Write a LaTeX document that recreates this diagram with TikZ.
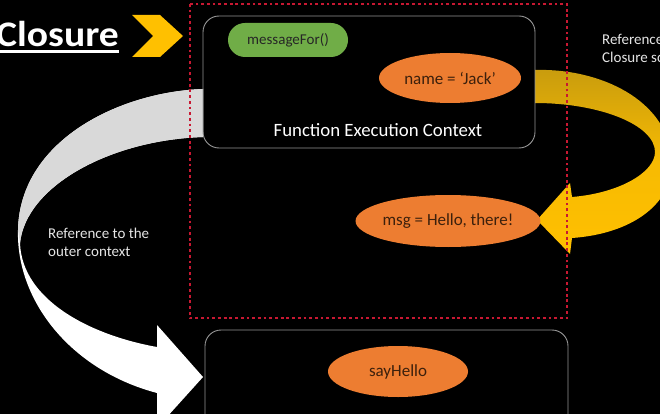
\documentclass[tikz,border=0pt]{standalone}
\usepackage{fontspec}
\setmainfont{Carlito}
\newfontfamily\titlefont[FakeStretch=1.1]{Carlito}
\usetikzlibrary{shapes.geometric}
\definecolor{gold}{HTML}{FFC000}
\definecolor{darkgold}{RGB}{200,156,14}
\definecolor{leafgreen}{HTML}{70AD47}
\definecolor{pumpkin}{HTML}{ED7D31}
\definecolor{crimsonline}{RGB}{200,24,50}
\definecolor{boxgray}{RGB}{150,150,150}
\definecolor{ribbongray}{RGB}{217,217,217}
\definecolor{inktext}{RGB}{60,32,12}
\tikzset{
  ctxbox/.style={draw=boxgray, line width=0.9pt, rounded corners=16pt, inner sep=0pt},
  oval/.style={ellipse, fill=pumpkin, inner sep=0pt, text=inktext, font=\fontsize{17}{20}\selectfont},
  pill/.style={rectangle, rounded corners=17pt, fill=leafgreen, inner sep=0pt, text=black!85, font=\fontsize{15}{18}\selectfont},
  note/.style={text=white!90!black, align=left, inner sep=0pt, font=\fontsize{15}{18}\selectfont},
  redframe/.style={draw=crimsonline, line width=2.8pt, dash pattern=on 2.8pt off 2.9pt}
}
\begin{document}
\begin{tikzpicture}[x=1pt,y=-1pt]
\useasboundingbox (0,0) rectangle (660,414);
\fill[black] (0,0) rectangle (660,414);
\clip (0,0) rectangle (660,414);

% white / gray ribbon arrow (reference to outer context)
\fill[white] (203,89) .. controls (120,92) and (20,140) .. (18,230)
  .. controls (16,300) and (70,370) .. (157,393) -- (157,428) -- (203,377) -- (157,325) -- (157,347)
  .. controls (90,335) and (22,300) .. (20,243)
  .. controls (26,186) and (110,140) .. (203,137) -- cycle;
\fill[ribbongray] (203,89) .. controls (120,92) and (20,140) .. (18,230) -- (20,243)
  .. controls (26,186) and (110,140) .. (203,137) -- cycle;

% yellow arrow (reference to closure scope)
\shade[top color=darkgold, bottom color=gold, middle color=gold!85!darkgold]
  (535,70) .. controls (600,68) and (668,100) .. (672,160)
  .. controls (674,205) and (630,234) .. (572,238) -- (570,254) -- (537,220) -- (570,183) -- (572,197)
  .. controls (620,193) and (655,172) .. (655,152)
  .. controls (655,125) and (600,103) .. (535,103) -- cycle;

% chevron
\fill[gold] (132,15) -- (160,15) -- (183,36) -- (160,57) -- (132,57) -- (153,36) -- cycle;

% title
\node[anchor=base east, inner sep=0pt, text=white, font=\fontsize{36}{40}\titlefont\bfseries] (title) at (119,47) {Closure};
\draw[white, line width=2.4pt] (0,51.5) -- (title.east |- 0,51.5);

% red dotted frame
\draw[redframe] (190,4) rectangle (567,318);

% boxes
\node[ctxbox, minimum width=332pt, minimum height=132pt] (topbox) at (369,82) {};
\node[ctxbox, minimum width=363pt, minimum height=130pt] (botbox) at (386.5,395) {};

\node[anchor=base, inner sep=0pt, text=white, font=\fontsize{18.8}{22}\selectfont] (ctxlabel) at (378,137) {Function Execution Context};

\node[pill, minimum width=120pt, minimum height=34pt] (msgfor) at (288,40) {messageFor()};
\node[oval, minimum width=142pt, minimum height=50pt] (name) at (450,78) {name = ‘Jack’};
\node[oval, minimum width=160pt, minimum height=52pt] (msg) at (448,221) {msg = Hello, there!};
\node[oval, minimum width=140pt, minimum height=51pt] (say) at (398,371.5) {sayHello};

% notes
\node[note, anchor=north west] (outernote) at (48,228) {Reference to the\\outer context};
\node[note, anchor=north west] (closurenote) at (602,34) {Reference to the\\Closure scope};
\end{tikzpicture}
\end{document}
